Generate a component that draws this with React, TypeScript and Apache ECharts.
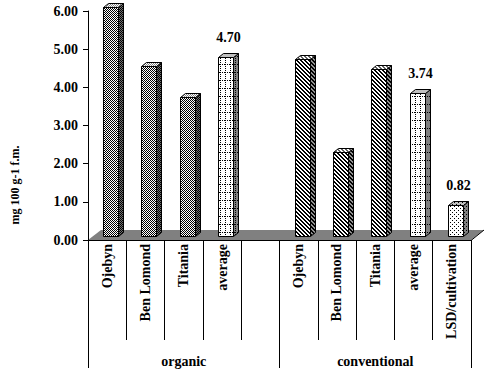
import React, { useEffect, useRef } from "react";
import * as echarts from "echarts";

const categories = ["Ojebyn", "Ben Lomond", "Titania", "average", "", "Ojebyn", "Ben Lomond", "Titania", "average", "LSD/cultivation"];
const groups = ["organic", "conventional"];
const values: (number | null)[] = [6.0, 4.45, 3.65, 4.7, null, 4.65, 2.2, 4.37, 3.74, 0.82];
const barKinds = ["checker", "checker", "checker", "grid", "", "stripe", "stripe", "stripe", "grid", "dots"];
const labeledBars = [3, 8, 9];
const yMin = 0;
const yMax = 6;
const yStep = 1;
const yAxisName = "mg 100 g-1 f.m.";

const FONT = "Liberation Serif";

function makePattern(w: number, h: number, bg: string, fn: (x: number, y: number) => string | null) {
  const c = document.createElement("canvas");
  c.width = w;
  c.height = h;
  const ctx = c.getContext("2d")!;
  ctx.fillStyle = bg;
  ctx.fillRect(0, 0, w, h);
  for (let y = 0; y < h; y++) {
    for (let x = 0; x < w; x++) {
      const col = fn(x, y);
      if (col) {
        ctx.fillStyle = col;
        ctx.fillRect(x, y, 1, 1);
      }
    }
  }
  return { image: c, repeat: "repeat", imageWidth: w, imageHeight: h } as any;
}

function buildPatterns() {
  const checker = (a: string) => (x: number, y: number) => ((x + y) % 2 === 0 ? a : null);
  const stripe = (a: string) => (x: number, y: number) => (((x - y) % 4 + 4) % 4 < 2 ? a : null);
  const grid = (a: string) => (x: number, y: number) =>
    (x === 0 && y % 2 === 0) || (y === 0 && x % 2 === 0) ? a : null;
  const dots = (a: string) => (x: number, y: number) => (x === 0 && y === 0) || (x === 2 && y === 2) ? a : null;
  return {
    checker: {
      front: makePattern(2, 2, "#ffffff", checker("#000000")),
      side: makePattern(2, 2, "#707070", checker("#000000")),
      top: makePattern(2, 2, "#ffffff", checker("#808080")),
    },
    stripe: {
      front: makePattern(4, 4, "#ffffff", stripe("#000000")),
      side: makePattern(4, 4, "#909090", stripe("#000000")),
      top: makePattern(4, 4, "#ffffff", stripe("#606060")),
    },
    grid: {
      front: makePattern(5, 8, "#ffffff", grid("#000000")),
      side: makePattern(5, 8, "#808080", grid("#000000")),
      top: makePattern(2, 2, "#c0c0c0", () => null),
    },
    dots: {
      front: makePattern(4, 4, "#ffffff", dots("#000000")),
      side: makePattern(4, 4, "#808080", dots("#000000")),
      top: makePattern(4, 4, "#c0c0c0", dots("#000000")),
    },
  } as Record<string, { front: any; side: any; top: any }>;
}

export default function App() {
  const ref = useRef<HTMLDivElement>(null);
  useEffect(() => {
    document.body.style.margin = "0";
    const chart = echarts.init(ref.current!, undefined, { renderer: "svg" });
    const pats = buildPatterns();
    const barData = values
      .map((v, i) => (v == null ? null : [i, v]))
      .filter((d) => d != null) as number[][];

    const option: any = {
      animation: false,
      backgroundColor: "#ffffff",
      textStyle: { fontFamily: FONT },
      grid: { left: 88, right: 17, top: 11, bottom: 138, containLabel: false },
      xAxis: [
        {
          type: "category",
          data: categories,
          position: "bottom",
          boundaryGap: true,
          axisLine: { show: true, lineStyle: { color: "#000", width: 1 } },
          axisTick: { show: true, length: 100, interval: 0, lineStyle: { color: "#000", width: 1 } },
          axisLabel: {
            interval: 0,
            rotate: 90,
            margin: 4,
            color: "#000",
            fontFamily: FONT,
            fontWeight: "bold",
            fontSize: 14,
          },
          splitLine: { show: false },
          z: 5,
        },
        {
          type: "category",
          data: groups,
          position: "bottom",
          offset: 0,
          boundaryGap: true,
          axisLine: { show: false },
          axisTick: { show: true, length: 128, interval: 0, lineStyle: { color: "#000", width: 1 } },
          axisLabel: {
            interval: 0,
            margin: 114,
            color: "#000",
            fontFamily: FONT,
            fontWeight: "bold",
            fontSize: 14,
          },
          splitLine: { show: false },
        },
      ],
      yAxis: {
        type: "value",
        min: yMin,
        max: yMax,
        interval: yStep,
        axisLine: { show: true, lineStyle: { color: "#000", width: 1 } },
        axisTick: { show: true, length: 5, inside: false, lineStyle: { color: "#000" } },
        axisLabel: {
          margin: 10,
          color: "#000",
          fontFamily: FONT,
          fontWeight: "bold",
          fontSize: 14,
          formatter: (v: number) => v.toFixed(2),
        },
        splitLine: { show: false },
        z: 5,
      },
      graphic: [
        {
          type: "text",
          x: 15,
          y: 185,
          rotation: Math.PI / 2,
          style: {
            text: yAxisName,
            align: "center",
            verticalAlign: "middle",
            font: `bold 12px ${FONT}`,
            fill: "#000",
          },
        },
      ],
      series: [
        {
          type: "custom",
          name: "floor",
          clip: false,
          z: 1,
          data: [[0, 0]],
          renderItem: (params: any, api: any) => {
            const cs = params.coordSys;
            const y0 = api.coord([0, 0])[1];
            const x0 = cs.x;
            const x1 = cs.x + cs.width;
            const d = 13;
            const h = 10;
            return {
              type: "group",
              children: [
                {
                  type: "polygon",
                  shape: { points: [[x0, y0], [x1, y0], [x1 + d, y0 - h], [x0 + d, y0 - h]] },
                  style: { fill: "#808080", stroke: null },
                },
                {
                  type: "polyline",
                  shape: { points: [[x0, y0 + 0.5], [x1, y0 + 0.5], [x1 + d, y0 - h]] },
                  style: { fill: null, stroke: "#000", lineWidth: 1 },
                },
              ],
            };
          },
        },
        {
          type: "custom",
          name: "bars",
          clip: false,
          z: 3,
          data: barData,
          renderItem: (params: any, api: any) => {
            const i = api.value(0);
            const v = api.value(1);
            const kind = barKinds[i];
            const p = pats[kind];
            const top = api.coord([i, v]);
            const base = api.coord([i, 0]);
            const W = 15;
            const dx = 5;
            const dy = 4;
            const lift = 4;
            const L = Math.round(top[0] - 4) + 0.5;
            const B = Math.round(base[1] - lift) + 0.5;
            const T = Math.round(top[1] - lift) + 0.5;
            const children: any[] = [
              {
                type: "polygon",
                shape: { points: [[L + W, T], [L + W + dx, T - dy], [L + W + dx, B - dy], [L + W, B]] },
                style: { fill: p.side, stroke: "#000", lineWidth: 1 },
              },
              {
                type: "polygon",
                shape: { points: [[L, T], [L + dx, T - dy], [L + W + dx, T - dy], [L + W, T]] },
                style: { fill: p.top, stroke: "#000", lineWidth: 1 },
              },
              {
                type: "rect",
                shape: { x: L, y: T, width: W, height: B - T },
                style: { fill: p.front, stroke: "#000", lineWidth: 1 },
              },
            ];
            if (labeledBars.indexOf(i) >= 0) {
              children.push({
                type: "text",
                x: L + 10,
                y: T - dy - 9,
                style: {
                  text: v.toFixed(2),
                  align: "center",
                  verticalAlign: "bottom",
                  font: `bold 14px ${FONT}`,
                  fill: "#000",
                },
              });
            }
            return { type: "group", children };
          },
        },
      ],
    };
    chart.setOption(option);
    return () => chart.dispose();
  }, []);
  return (
    <div
      ref={ref}
      style={{ width: 488, height: 378, position: "absolute", left: 0, top: 0, background: "#fff" }}
    />
  );
}
